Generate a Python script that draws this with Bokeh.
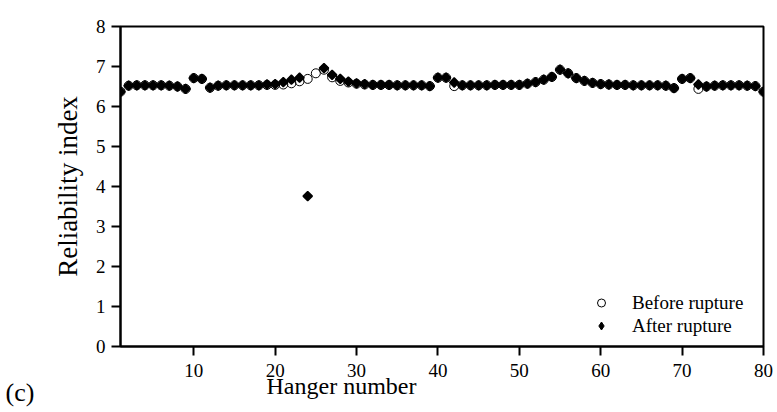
import math
import numpy as np
from bokeh.plotting import figure
from bokeh.models import (ColumnDataSource, FixedTicker, Legend, LegendItem,
                          Title, Range1d)
from bokeh.embed import file_html
from bokeh.resources import INLINE

# ---------------- data ----------------
hangers = list(range(1, 81))

before_rupture = [
    6.37, 6.52, 6.53, 6.53, 6.53, 6.53, 6.52, 6.50, 6.44, 6.71,   # 1-10
    6.69, 6.47, 6.52, 6.53, 6.53, 6.53, 6.53, 6.53, 6.54, 6.54,   # 11-20
    6.55, 6.58, 6.63, 6.69, 6.83, 6.92, 6.73, 6.64, 6.60, 6.57,   # 21-30
    6.55, 6.54, 6.54, 6.54, 6.53, 6.53, 6.53, 6.53, 6.51, 6.72,   # 31-40
    6.72, 6.51, 6.53, 6.53, 6.53, 6.53, 6.54, 6.54, 6.54, 6.54,   # 41-50
    6.57, 6.61, 6.67, 6.74, 6.92, 6.83, 6.71, 6.64, 6.59, 6.56,   # 51-60
    6.55, 6.54, 6.54, 6.53, 6.53, 6.53, 6.53, 6.52, 6.46, 6.69,   # 61-70
    6.71, 6.44, 6.50, 6.52, 6.53, 6.53, 6.53, 6.52, 6.51, 6.37,   # 71-80
]

after_rupture = [
    6.37, 6.52, 6.53, 6.53, 6.53, 6.53, 6.52, 6.50, 6.44, 6.71,   # 1-10
    6.69, 6.47, 6.52, 6.53, 6.53, 6.53, 6.53, 6.53, 6.55, 6.56,   # 11-20
    6.61, 6.67, 6.72, 3.76, None, 6.96, 6.79, 6.69, 6.62, 6.58,   # 21-30
    6.56, 6.54, 6.54, 6.54, 6.53, 6.53, 6.53, 6.53, 6.51, 6.72,   # 31-40
    6.72, 6.60, 6.53, 6.53, 6.53, 6.53, 6.54, 6.54, 6.54, 6.54,   # 41-50
    6.57, 6.61, 6.67, 6.74, 6.92, 6.83, 6.71, 6.64, 6.59, 6.56,   # 51-60
    6.55, 6.54, 6.54, 6.53, 6.53, 6.53, 6.53, 6.52, 6.46, 6.69,   # 61-70
    6.71, 6.55, 6.50, 6.52, 6.53, 6.53, 6.53, 6.52, 6.51, 6.37,   # 71-80
]

x_ticks = [10, 20, 30, 40, 50, 60, 70, 80]
y_ticks = [0, 1, 2, 3, 4, 5, 6, 7, 8]

src = ColumnDataSource(dict(
    x=hangers,
    before=np.array(before_rupture, dtype=float),
    after=np.array([np.nan if v is None else v for v in after_rupture], dtype=float),
))

# ---------------- figure ----------------
FONT = "Liberation Serif"

p = figure(width=775, height=410,
           x_range=Range1d(1, 80), y_range=Range1d(0, 8),
           output_backend="svg", toolbar_location=None,
           min_border_left=120, min_border_right=12,
           min_border_top=26, min_border_bottom=64)

p.xgrid.visible = False
p.ygrid.visible = False
p.outline_line_color = "black"
p.outline_line_width = 2
p.outline_line_alpha = 1
p.background_fill_color = "white"
p.border_fill_color = "white"

for ax in (p.xaxis[0], p.yaxis[0]):
    ax.axis_line_width = 2
    ax.axis_line_color = "black"
    ax.major_tick_line_width = 2
    ax.major_tick_line_color = "black"
    ax.major_tick_out = 9
    ax.major_tick_in = 0
    ax.minor_tick_out = 0
    ax.minor_tick_in = 0
    ax.major_label_text_font = FONT
    ax.major_label_text_font_size = "19px"
    ax.major_label_text_color = "black"
    ax.axis_label_text_font = FONT
    ax.axis_label_text_font_style = "normal"
    ax.axis_label_text_color = "black"

p.xaxis.ticker = FixedTicker(ticks=x_ticks)
p.yaxis.ticker = FixedTicker(ticks=y_ticks)
p.xaxis.major_label_standoff = 8
p.yaxis.major_label_standoff = 6

p.yaxis.axis_label = "Reliability index"
p.yaxis.axis_label_text_font_size = "27px"
p.yaxis.axis_label_standoff = 10

r_before = p.scatter("x", "before", source=src, marker="circle", size=9,
                     fill_color=None, line_color="black", line_width=1)
r_after = p.scatter("x", "after", source=src, marker="square",
                    angle=math.pi / 4, size=6.5, fill_color="black",
                    line_color="black", line_width=1.5)
# hidden twin of the "after" series, only used to draw a diamond legend key
r_after_key = p.scatter("x", "after", source=src, marker="diamond", size=8.5,
                        fill_color="black", line_color="black", line_width=1,
                        visible=False)

legend = Legend(items=[LegendItem(label="Before rupture", renderers=[r_before]),
                       LegendItem(label="After rupture", renderers=[r_after_key])],
                location=(471, 9), glyph_width=20, glyph_height=23,
                label_height=23, label_standoff=21, spacing=0, padding=0,
                margin=0, border_line_color=None, background_fill_alpha=0,
                inactive_fill_alpha=0,
                label_text_font=FONT, label_text_font_size="19px",
                label_text_color="black")
p.add_layout(legend)

# x-axis title (off-centre in the original) and the panel tag, as titles below
p.add_layout(Title(text="Hanger number", align="left", offset=146, standoff=-17,
                   text_font=FONT, text_font_size="24px",
                   text_font_style="normal", text_color="black"), "below")
p.add_layout(Title(text="(c)", align="left", offset=-115, standoff=-30,
                   text_font=FONT, text_font_size="26px",
                   text_font_style="normal", text_color="black"), "below")

open("out.html", "w").write(file_html(p, INLINE))
